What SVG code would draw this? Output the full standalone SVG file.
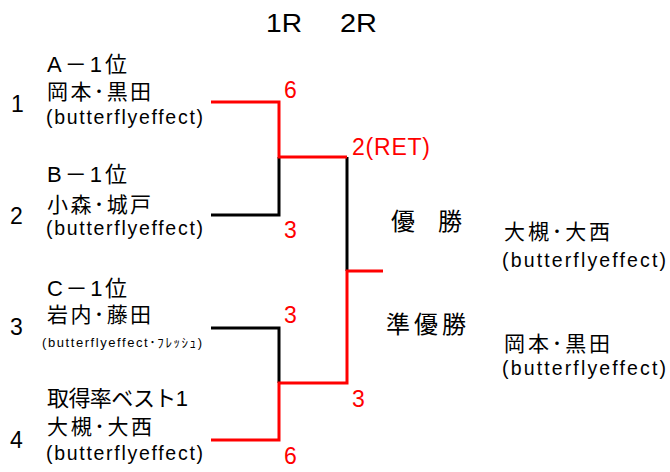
<svg xmlns="http://www.w3.org/2000/svg" width="670" height="472" viewBox="0 0 670 472">
<style>
text{font-family:"Liberation Sans","Noto Sans CJK JP",sans-serif;fill:#000}
.t{font-size:21px}
.a{font-size:22px}
.b{font-size:19.5px}
.xs{font-size:13px}
.n{font-size:23px}
.h{font-size:25px}
.r{font-size:23px;fill:#f00}
.w{font-size:24px}
.k{stroke:#000;stroke-width:3;fill:none}
.red{stroke:#f00;stroke-width:3;fill:none}
</style>
<rect width="670" height="472" fill="#fff"/>
<g id="header">
<text class="h" x="266" y="32" textLength="36" lengthAdjust="spacingAndGlyphs">1R</text>
<text class="h" x="340" y="32" textLength="37" lengthAdjust="spacingAndGlyphs">2R</text>
</g>
<g id="team1">
<text class="n" x="11" y="112">1</text>
<text class="a" x="47" y="72" textLength="80">A－1位</text>
<text class="t" x="47" y="98.5" textLength="104">岡本･黒田</text>
<text class="b" x="46" y="124" textLength="157">(butterflyeffect)</text>
</g>
<g id="team2">
<text class="n" x="10" y="224">2</text>
<text class="a" x="47" y="182" textLength="80">B－1位</text>
<text class="t" x="47" y="211.5" textLength="104">小森･城戸</text>
<text class="b" x="46" y="235" textLength="157">(butterflyeffect)</text>
</g>
<g id="team3">
<text class="n" x="10" y="335">3</text>
<text class="a" x="47" y="296" textLength="80">C－1位</text>
<text class="t" x="47" y="321.5" textLength="104">岩内･藤田</text>
<text class="xs" x="42" y="347" textLength="160">(butterflyeffect･ﾌﾚｯｼｭ)</text>
</g>
<g id="team4">
<text class="n" x="10" y="448">4</text>
<text class="a" x="47" y="405.5" textLength="141">取得率ベスト1</text>
<text class="t" x="47" y="433.5" textLength="105">大槻･大西</text>
<text class="b" x="46" y="460" textLength="157">(butterflyeffect)</text>
</g>
<g id="connectors">
<path class="k" d="M211 215H279V157"/>
<path class="k" d="M211 328H279V383"/>
<path class="k" d="M347 157V271"/>
<path class="red" d="M211 102H279V157H347"/>
<path class="red" d="M211 440H279V383H347V271H383"/>
</g>
<g id="scores">
<text class="r" x="284" y="98">6</text>
<text class="r" x="284" y="238">3</text>
<text class="r" x="284" y="323">3</text>
<text class="r" x="284" y="464">6</text>
<text class="r" x="352" y="155" textLength="78">2(RET)</text>
<text class="r" x="352" y="407">3</text>
</g>
<g id="results">
<text class="w" x="391" y="230" textLength="71">優　勝</text>
<text class="w" x="386" y="333" textLength="80">準優勝</text>
<text class="t" x="504" y="238.5" textLength="106">大槻･大西</text>
<text class="b" x="502" y="267" textLength="164">(butterflyeffect)</text>
<text class="t" x="504" y="350.5" textLength="106">岡本･黒田</text>
<text class="b" x="502" y="375" textLength="164">(butterflyeffect)</text>
</g>
</svg>
